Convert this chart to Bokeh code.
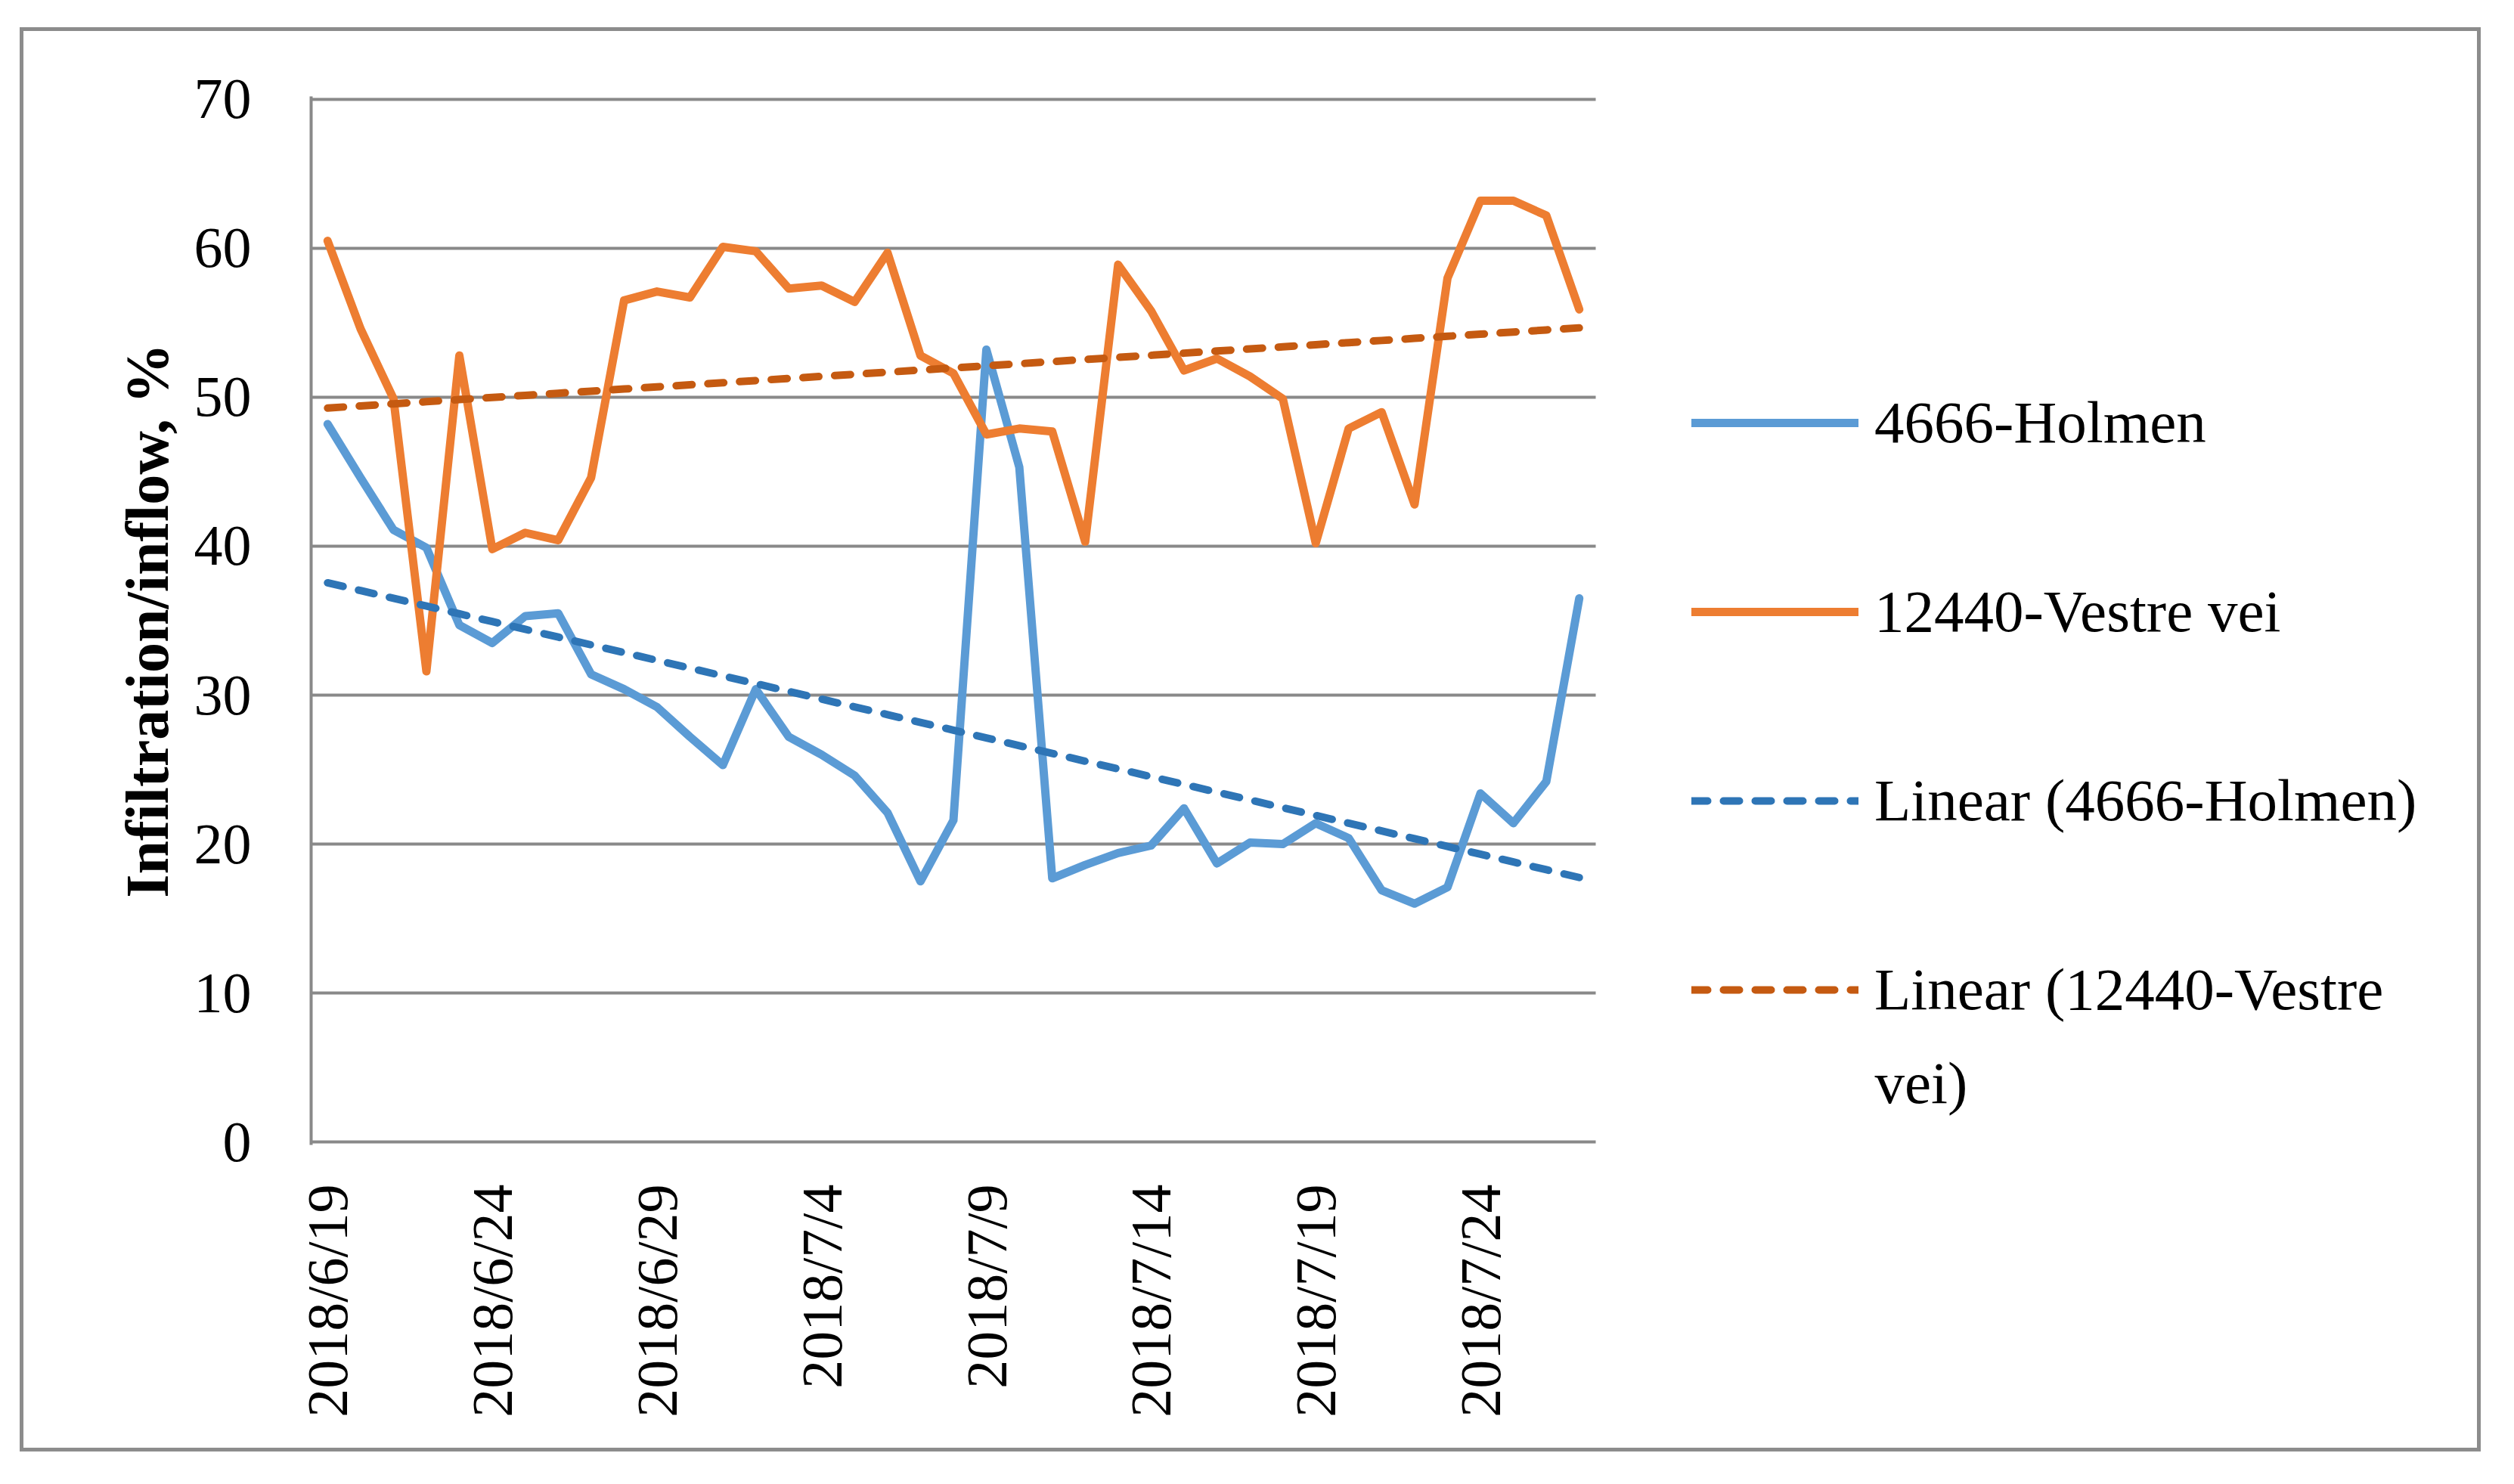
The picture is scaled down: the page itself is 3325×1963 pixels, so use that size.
import math
import numpy as np
import pandas as pd
from bokeh.plotting import figure
from bokeh.models import Range1d, FixedTicker, Legend, LegendItem, Label
from bokeh.embed import file_html
from bokeh.resources import INLINE

# ---- data ----
dates = pd.date_range("2018-06-19", "2018-07-27", freq="D")
date_labels = [f"{d.year}/{d.month}/{d.day}" for d in dates]
day_index = list(range(len(dates)))

holmen = [48.2, 44.6, 41.1, 39.9, 34.7, 33.5, 35.3, 35.5, 31.4, 30.4,
          29.2, 27.2, 25.3, 30.4, 27.2, 26.0, 24.6, 22.1, 17.5, 21.6,
          53.2, 45.3, 17.7, 18.6, 19.4, 19.9, 22.4, 18.7, 20.1, 20.0,
          21.4, 20.4, 16.9, 16.0, 17.1, 23.4, 21.4, 24.2, 36.5]
vestre = [60.5, 54.6, 49.9, 31.6, 52.8, 39.8, 40.9, 40.4, 44.6, 56.5,
          57.1, 56.7, 60.1, 59.8, 57.3, 57.5, 56.4, 59.7, 52.8, 51.6,
          47.5, 47.9, 47.7, 40.3, 58.9, 55.8, 51.8, 52.6, 51.4, 49.9,
          40.2, 47.9, 49.0, 42.8, 58.0, 63.2, 63.2, 62.2, 55.9]

series_names = ["4666-Holmen", "12440-Vestre vei",
                "Linear (4666-Holmen)", "Linear (12440-Vestre"]
wrapped_tail = "vei)"
y_ticks = [0, 10, 20, 30, 40, 50, 60, 70]
x_tick_days = [0, 5, 10, 15, 20, 25, 30, 35]

# linear trendlines (least squares, as the spreadsheet does)
xi = np.array(day_index, dtype=float)
cb = np.polyfit(xi, np.array(holmen), 1)
co = np.polyfit(xi, np.array(vestre), 1)
trend_holmen = list(np.polyval(cb, xi))
trend_vestre = list(np.polyval(co, xi))

# ---- layout (pixels) ----
W, H = 3255, 1884
LEFT, TOP, BOTTOM = 380, 86, 411
FRAME_W = W - LEFT
DATA_W = 1699                    # width of the plotted date region
n_days = len(day_index)
x_start = -0.5
x_end = x_start + n_days * FRAME_W / DATA_W
y_pad = 0.2

# ---- styling ----
FONT = "Liberation Serif"
GRID = "#898989"
BLUE = "#5B9BD5"
ORANGE = "#ED7D31"
BLUE_T = "#2E75B6"
ORANGE_T = "#C55A11"

p = figure(width=W, height=H,
           x_range=Range1d(x_start, x_end),
           y_range=Range1d(y_ticks[0] - y_pad, y_ticks[-1] + y_pad),
           output_backend="svg", toolbar_location=None,
           min_border_left=LEFT, min_border_right=0,
           min_border_top=TOP, min_border_bottom=BOTTOM)
p.styles = {"border": "5px solid #8c8c8c", "margin-left": "26px", "margin-top": "36px"}
p.outline_line_color = None
p.background_fill_color = "white"
p.border_fill_color = "white"

p.xgrid.visible = False
p.ygrid.visible = False
# horizontal gridlines only across the date region
p.segment(x0=[x_start] * len(y_ticks), x1=[x_start + n_days] * len(y_ticks),
          y0=y_ticks, y1=y_ticks, line_color=GRID, line_width=4)

for ax in (p.xaxis[0], p.yaxis[0]):
    ax.axis_line_color = GRID
    ax.axis_line_width = 4
    ax.major_tick_line_color = None
    ax.minor_tick_line_color = None
    ax.major_tick_out = 0
    ax.major_tick_in = 0
    ax.minor_tick_out = 0
    ax.major_label_text_font = FONT
    ax.major_label_text_font_size = "76px"
    ax.major_label_text_color = "black"
p.xaxis.axis_line_color = None

p.yaxis.ticker = FixedTicker(ticks=y_ticks)
p.yaxis.major_label_standoff = 79
p.yaxis.axis_label = "Infiltration/inflow, %"
p.yaxis.axis_label_text_font = FONT
p.yaxis.axis_label_text_font_style = "bold"
p.yaxis.axis_label_text_font_size = "80px"
p.yaxis.axis_label_text_color = "black"
p.yaxis.axis_label_standoff = 15

p.xaxis.ticker = FixedTicker(ticks=x_tick_days)
p.xaxis.major_label_overrides = {d: date_labels[d] for d in x_tick_days}
p.xaxis.major_label_orientation = math.pi / 2
p.xaxis.major_label_standoff = 52

r1 = p.line(day_index, holmen, line_color=BLUE, line_width=11,
            line_join="round", line_cap="round")
r2 = p.line(day_index, vestre, line_color=ORANGE, line_width=11,
            line_join="round", line_cap="round")
r3 = p.line(day_index, trend_holmen, line_color=BLUE_T, line_width=10,
            line_dash="21 21", line_cap="round")
r4 = p.line(day_index, trend_vestre, line_color=ORANGE_T, line_width=10,
            line_dash="21 21", line_cap="round")

legend = Legend(items=[LegendItem(label=series_names[0], renderers=[r1]),
                       LegendItem(label=series_names[1], renderers=[r2]),
                       LegendItem(label=series_names[2], renderers=[r3]),
                       LegendItem(label=series_names[3], renderers=[r4])],
                location=(1826, 155), orientation="vertical",
                padding=0, margin=0, spacing=150,
                glyph_width=221, glyph_height=100, label_height=100,
                label_standoff=21,
                label_text_font=FONT, label_text_font_size="79px",
                label_text_color="black",
                border_line_color=None, background_fill_alpha=0)
p.add_layout(legend, "center")

p.add_layout(Label(x=2068, y=82, x_units="screen", y_units="screen",
                   text=wrapped_tail, text_font=FONT, text_font_size="79px",
                   text_color="black", text_baseline="alphabetic"))

open("out.html", "w").write(file_html(p, INLINE))
